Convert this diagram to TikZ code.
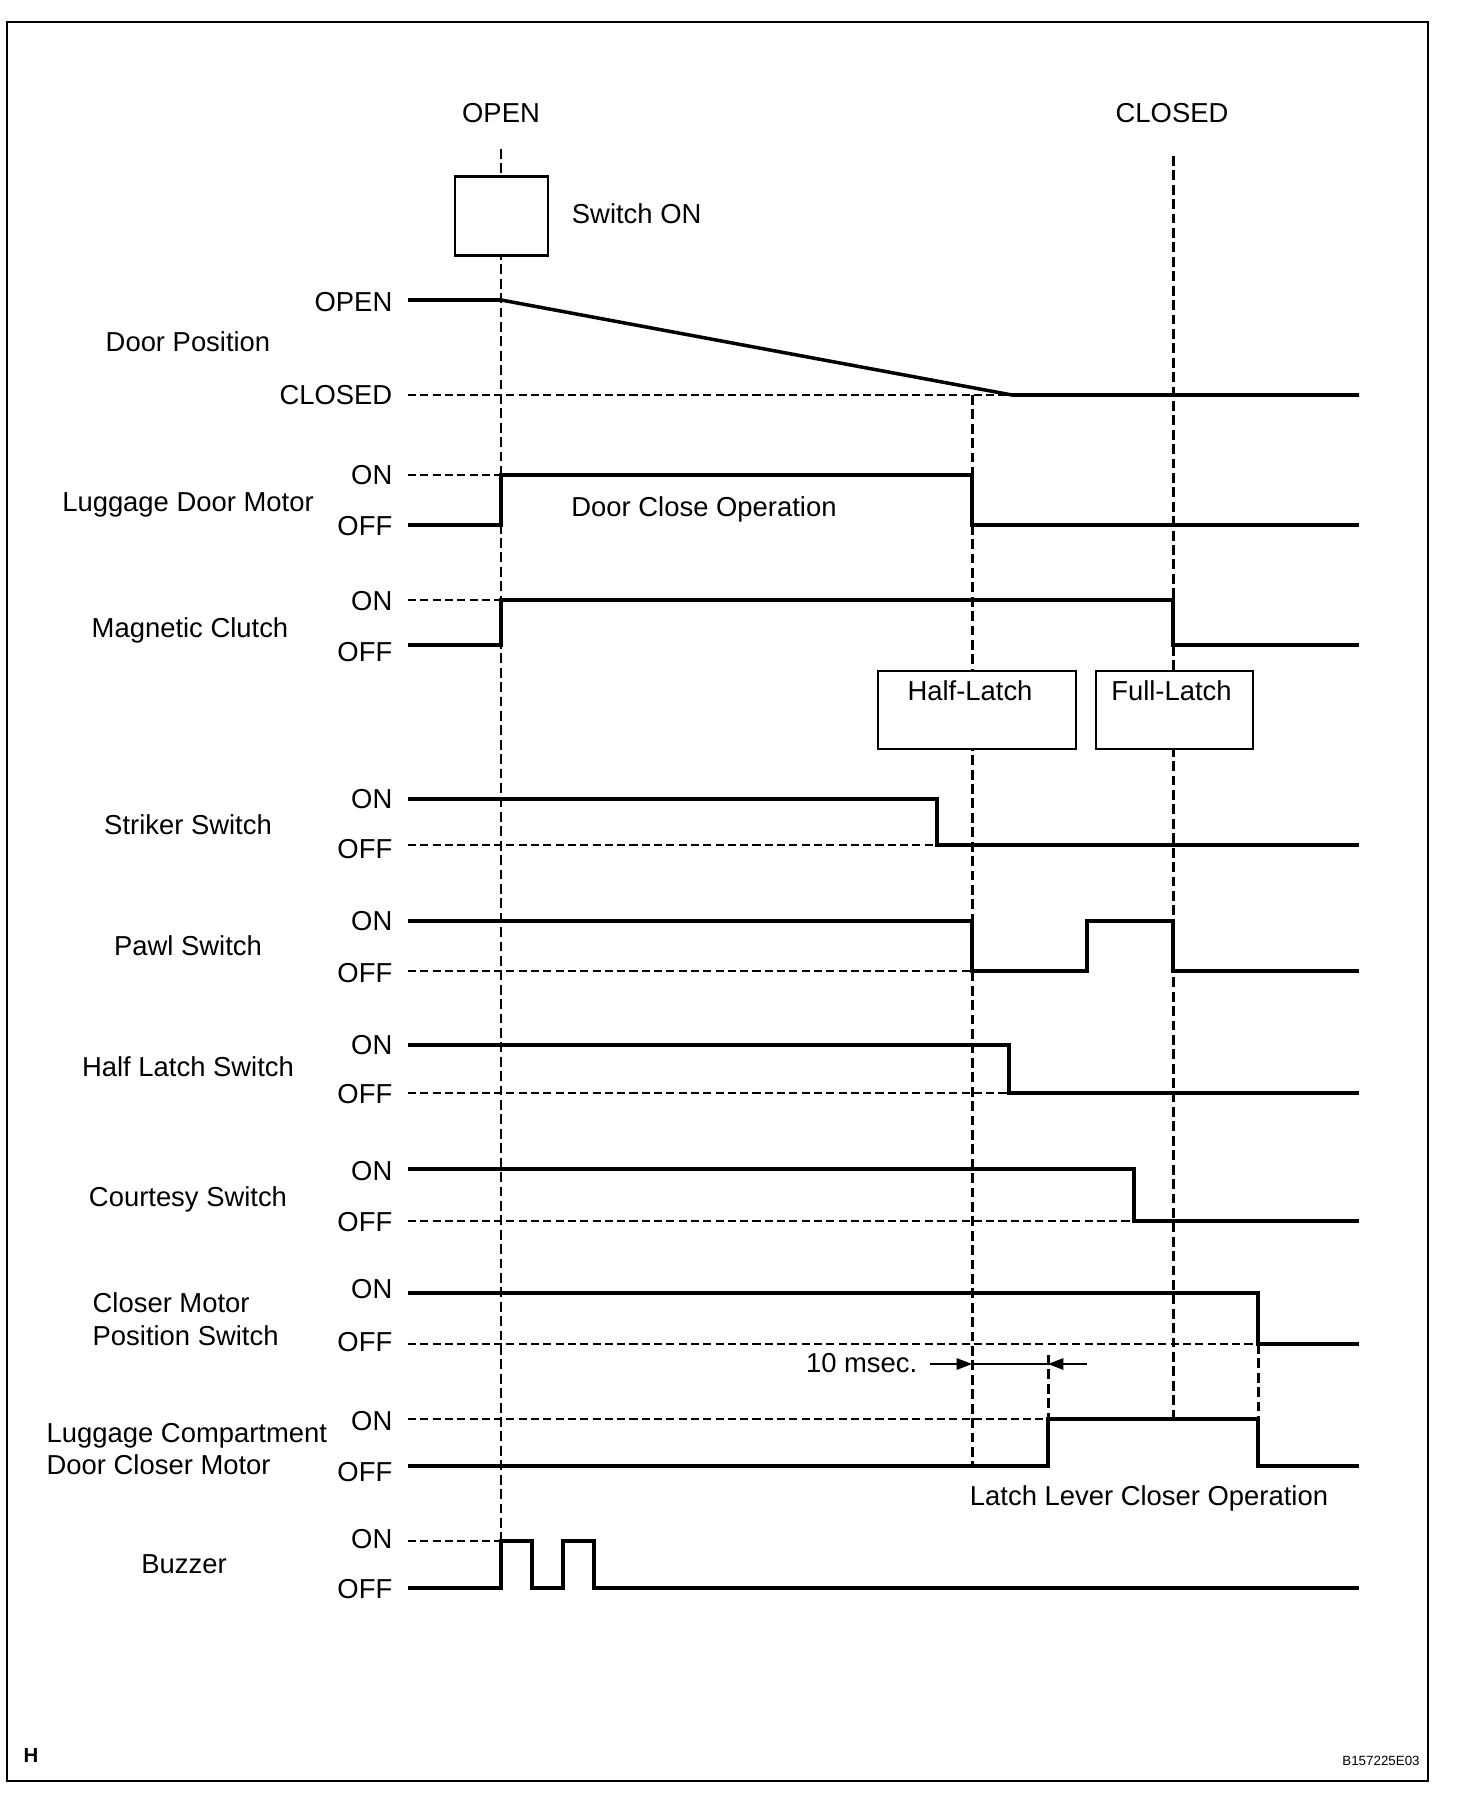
\documentclass[tikz,border=0pt]{standalone}
\usepackage{fontspec}
\setmainfont{Liberation Sans}
\usetikzlibrary{arrows.meta,positioning}

\tikzset{
  sig/.style={line width=1.0pt},
  guide/.style={line width=0.85pt,dash pattern=on 2.8pt off 1.3pt},
  lvl/.style={line width=0.5pt,dash pattern=on 2.3pt off 1.2pt},
  lvlname/.style={anchor=east},
  signame/.style={align=center},
  evbox/.style={draw,line width=0.7pt,fill=white},
  dim/.style={line width=0.35pt,-{Triangle[length=4.4pt,width=3.3pt]}},
}

\begin{document}
\begin{tikzpicture}[font=\fontsize{7.8}{9.3}\selectfont,inner sep=0pt,text depth=0pt]
  \useasboundingbox (0,0) rectangle (14.72,-18.04);
  \draw[line width=0.6pt] (0.07,-0.22) rectangle (14.28,-17.81);
  \node (topen) at (5.01,-1.13) {OPEN};
  \node (tclosed) at (11.72,-1.13) {CLOSED};
  % time marks
  \draw[guide] (5.01,-1.49) -- (5.01,-15.41);
  \draw[guide] (11.73,-1.56) -- (11.73,-14.19);
  \draw[guide] (9.72,-3.95) -- (9.72,-14.66);
  \draw[guide] (10.48,-13.55) -- (10.48,-14.19);
  \draw[guide] (12.58,-13.44) -- (12.58,-14.19);
  \node[evbox,minimum width=0.93cm,minimum height=0.79cm] (sw) at (5.015,-2.16) {};
  \node[right=0.22cm of sw,yshift=0.02cm] (swon) {Switch ON};
  % door position
  \node[signame] (door) at (1.88,-3.42) {Door Position};
  \node[lvlname] (dopen) at (3.93,-3.02) {OPEN};
  \node[lvlname] (dclosed) at (3.93,-3.95) {CLOSED};
  \draw[lvl] (4.08,-3.95) -- (10.12,-3.95);
  \draw[sig] (4.08,-3.00) -- (5.01,-3.00) -- (10.12,-3.95) -- (13.59,-3.95);
  % luggage door motor
  \node[signame] (ldm) at (1.88,-5.02) {Luggage Door Motor};
  \node[lvlname] (ldmon) at (3.93,-4.75) {ON};
  \node[lvlname] (ldmoff) at (3.93,-5.26) {OFF};
  \draw[lvl] (4.08,-4.75) -- (5.01,-4.75);
  \draw[sig] (4.08,-5.25) -- (5.01,-5.25) -- (5.01,-4.75) -- (9.72,-4.75) -- (9.72,-5.25) -- (13.59,-5.25);
  \node (closeop) at (7.04,-5.07) {Door Close Operation};
  % magnetic clutch
  \node[signame] (mc) at (1.90,-6.28) {Magnetic Clutch};
  \node[lvlname] (mcon) at (3.93,-6.01) {ON};
  \node[lvlname] (mcoff) at (3.93,-6.52) {OFF};
  \draw[lvl] (4.08,-6.00) -- (5.01,-6.00);
  \draw[sig] (4.08,-6.45) -- (5.01,-6.45) -- (5.01,-6.00) -- (11.73,-6.00) -- (11.73,-6.45) -- (13.59,-6.45);
  \node[evbox,minimum width=1.98cm,minimum height=0.78cm] (half) at (9.77,-7.10) {};
  \node[below=0.10cm of half.north,xshift=-0.07cm] (halft) {Half-Latch};
  \node[evbox,minimum width=1.57cm,minimum height=0.78cm] (full) at (11.745,-7.10) {};
  \node[below=0.10cm of full.north,xshift=-0.03cm] (fullt) {Full-Latch};
  % striker switch
  \node[signame] (stk) at (1.88,-8.25) {Striker Switch};
  \node[lvlname] (stkon) at (3.93,-7.99) {ON};
  \node[lvlname] (stkoff) at (3.93,-8.49) {OFF};
  \draw[lvl] (4.08,-8.45) -- (9.37,-8.45);
  \draw[sig] (4.08,-7.99) -- (9.37,-7.99) -- (9.37,-8.45) -- (13.59,-8.45);
  % pawl switch
  \node[signame] (pawl) at (1.88,-9.46) {Pawl Switch};
  \node[lvlname] (pawlon) at (3.93,-9.21) {ON};
  \node[lvlname] (pawloff) at (3.93,-9.73) {OFF};
  \draw[lvl] (4.08,-9.71) -- (9.72,-9.71);
  \draw[sig] (4.08,-9.21) -- (9.72,-9.21) -- (9.72,-9.71) -- (10.87,-9.71) -- (10.87,-9.21) -- (11.73,-9.21) -- (11.73,-9.71) -- (13.59,-9.71);
  % half latch switch
  \node[signame] (hls) at (1.88,-10.67) {Half Latch Switch};
  \node[lvlname] (hlson) at (3.93,-10.45) {ON};
  \node[lvlname] (hlsoff) at (3.93,-10.94) {OFF};
  \draw[lvl] (4.08,-10.93) -- (10.09,-10.93);
  \draw[sig] (4.08,-10.45) -- (10.09,-10.45) -- (10.09,-10.93) -- (13.59,-10.93);
  % courtesy switch
  \node[signame] (cty) at (1.88,-11.97) {Courtesy Switch};
  \node[lvlname] (ctyon) at (3.93,-11.71) {ON};
  \node[lvlname] (ctyoff) at (3.93,-12.22) {OFF};
  \draw[lvl] (4.08,-12.21) -- (11.34,-12.21);
  \draw[sig] (4.08,-11.69) -- (11.34,-11.69) -- (11.34,-12.21) -- (13.59,-12.21);
  % closer motor position switch
  \node[anchor=west,align=left] (cmps) at (0.92,-13.19) {Closer Motor\\Position Switch};
  \node[lvlname] (cmpson) at (3.93,-12.89) {ON};
  \node[lvlname] (cmpsoff) at (3.93,-13.42) {OFF};
  \draw[lvl] (4.08,-13.44) -- (12.58,-13.44);
  \draw[sig] (4.08,-12.93) -- (12.58,-12.93) -- (12.58,-13.44) -- (13.59,-13.44);
  \node[anchor=east] (msec) at (9.18,-13.63) {10 msec.};
  \coordinate (ma) at (9.72,-13.64);
  \coordinate (mb) at (10.48,-13.64);
  \draw[dim] ([xshift=-0.42cm]ma) -- (ma);
  \draw[line width=0.35pt] (ma) -- (mb);
  \draw[dim] ([xshift=0.39cm]mb) -- (mb);
  % luggage compartment door closer motor
  \node[anchor=west,align=left] (lcdc) at (0.46,-14.49) {Luggage Compartment\\Door Closer Motor};
  \node[lvlname] (lcdcon) at (3.93,-14.21) {ON};
  \node[lvlname] (lcdcoff) at (3.93,-14.72) {OFF};
  \draw[lvl] (4.08,-14.19) -- (10.48,-14.19);
  \draw[sig] (4.08,-14.66) -- (10.48,-14.66) -- (10.48,-14.19) -- (12.58,-14.19) -- (12.58,-14.66) -- (13.59,-14.66);
  \node (latchop) at (11.49,-14.96) {Latch Lever Closer Operation};
  % buzzer
  \node[signame] (buz) at (1.84,-15.64) {Buzzer};
  \node[lvlname] (buzon) at (3.93,-15.39) {ON};
  \node[lvlname] (buzoff) at (3.93,-15.89) {OFF};
  \draw[lvl] (4.08,-15.41) -- (5.01,-15.41);
  \draw[sig] (4.08,-15.88) -- (5.01,-15.88) -- (5.01,-15.41) -- (5.32,-15.41) -- (5.32,-15.88) -- (5.63,-15.88) -- (5.63,-15.41) -- (5.94,-15.41) -- (5.94,-15.88) -- (13.59,-15.88);
  \node[font=\fontsize{5.8}{7}\selectfont\bfseries] (hmark) at (0.31,-17.55) {H};
  \node[font=\fontsize{3.8}{4.5}\selectfont] (fig) at (13.81,-17.61) {B157225E03};
\end{tikzpicture}
\end{document}
